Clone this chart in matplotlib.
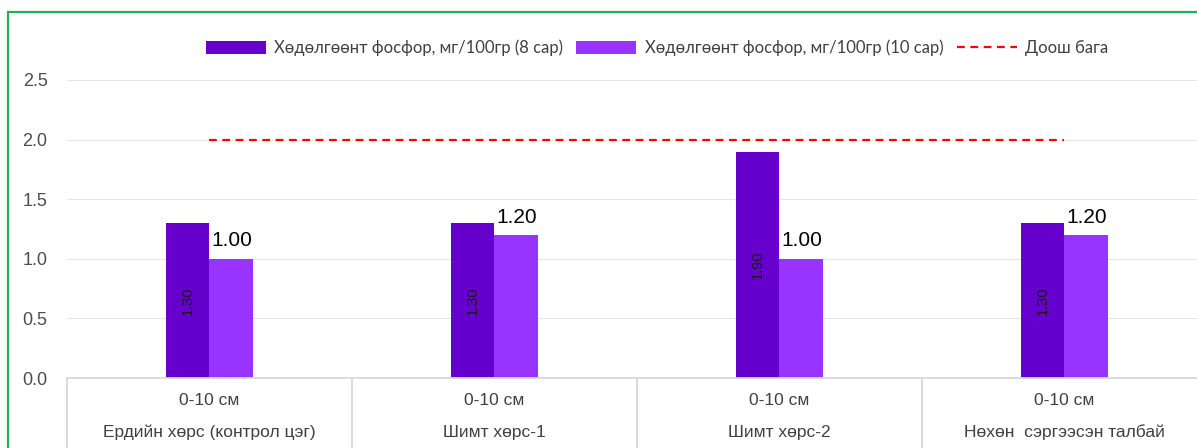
import matplotlib
matplotlib.use("Agg")
import matplotlib.pyplot as plt
from matplotlib.lines import Line2D
from matplotlib.patches import Patch, Rectangle
import matplotlib.transforms as mtransforms
import numpy as np

groups = ["Ердийн хөрс (контрол цэг)", "Шимт хөрс-1", "Шимт хөрс-2", "Нөхөн  сэргээсэн талбай"]
depths = ["0-10 см", "0-10 см", "0-10 см", "0-10 см"]
p_8 = [1.30, 1.30, 1.90, 1.30]
p_10 = [1.00, 1.20, 1.00, 1.20]
limit = [2.0, 2.0, 2.0, 2.0]
yticks = [0.0, 0.5, 1.0, 1.5, 2.0, 2.5]
series_names = ["Хөдөлгөөнт фосфор, мг/100гр (8 сар)",
                "Хөдөлгөөнт фосфор, мг/100гр (10 сар)",
                "Доош бага"]

c_dark = "#6600CC"
c_light = "#9933FF"
c_red = "#FF0000"
c_grid = "#E6E6E6"
c_axis = "#D9D9D9"
c_text = "#4D4D4D"

plt.rcParams['font.family'] = ['Liberation Sans', 'DejaVu Sans']
W, H = 1197, 448
fig = plt.figure(figsize=(W / 100, H / 100), dpi=100)

# axes: x from 67 to 1207 px, y from 80 to 378 px
ax = fig.add_axes([67 / W, (H - 378) / H, (1207 - 67) / W, (378 - 80) / H])
ax.set_ylim(0, 2.5)
ax.set_xlim(-0.5, len(groups) - 0.5)

x = np.arange(len(groups))
bw = 0.154
off = 0.077
b1 = ax.bar(x - off, p_8, width=bw, color=c_dark, zorder=3)
b2 = ax.bar(x + off, p_10, width=bw, color=c_light, zorder=3)
ln, = ax.plot(x, limit, color=c_red, linestyle=(0, (3.5, 2.5)), linewidth=1.6, zorder=4)

for rect, v in zip(b1, p_8):
    ax.text(rect.get_x() + rect.get_width() / 2, v / 2, f"{v:.2f}", rotation=90,
            ha="center", va="center", fontsize=10.5, color="#1a1a1a", zorder=5)
for rect, v in zip(b2, p_10):
    ax.text(rect.get_x() + rect.get_width() / 2, v + 0.07, f"{v:.2f}",
            ha="center", va="bottom", fontsize=15, color="#000000", zorder=5)

ax.set_yticks(yticks)
ax.set_yticklabels([f"{t:.1f}" for t in yticks], fontsize=13, color=c_text)
ax.tick_params(axis="y", length=0, pad=14)
ax.set_xticks([])
ax.grid(axis="y", color=c_grid, linewidth=0.8, zorder=0)
for s in ["top", "right", "left"]:
    ax.spines[s].set_visible(False)
ax.spines["bottom"].set_color(c_axis)
ax.spines["bottom"].set_linewidth(1.3)
ax.spines["bottom"].set_zorder(6)

# multi-level category axis
trans = mtransforms.blended_transform_factory(ax.transData, fig.transFigure)
for b in np.arange(-0.5, len(groups), 1.0):
    ax.add_line(Line2D([b, b], [(H - 378) / H, -0.05], transform=trans,
                       color=c_axis, linewidth=1.3, clip_on=False))
for xi, (d, g) in enumerate(zip(depths, groups)):
    ax.text(xi, (H - 400) / H, d, transform=trans, ha="center", va="center",
            fontsize=12.5, color="#404040")
    ax.text(xi, (H - 432) / H, g, transform=trans, ha="center", va="center",
            fontsize=12.5, color="#404040")

# legend
handles = [Patch(facecolor=c_dark), Patch(facecolor=c_light),
           Line2D([0], [0], color=c_red, linestyle=(0, (3.5, 2.5)), linewidth=1.6)]
leg = fig.legend(handles, series_names, loc="center", bbox_to_anchor=(657 / W, 1 - 48 / H),
                 ncol=3, frameon=False, prop={"family": "Lato", "size": 12},
                 handlelength=3.6, handleheight=0.8, handletextpad=0.5, columnspacing=0.8,
                 labelcolor="#404040")

# green border
fig.add_artist(Rectangle((8 / W, -0.1), 1.1, 1 - 12 / H + 0.1, transform=fig.transFigure,
                         fill=False, edgecolor="#1DB25A", linewidth=1.6))

fig.savefig("out.png", dpi=100)
